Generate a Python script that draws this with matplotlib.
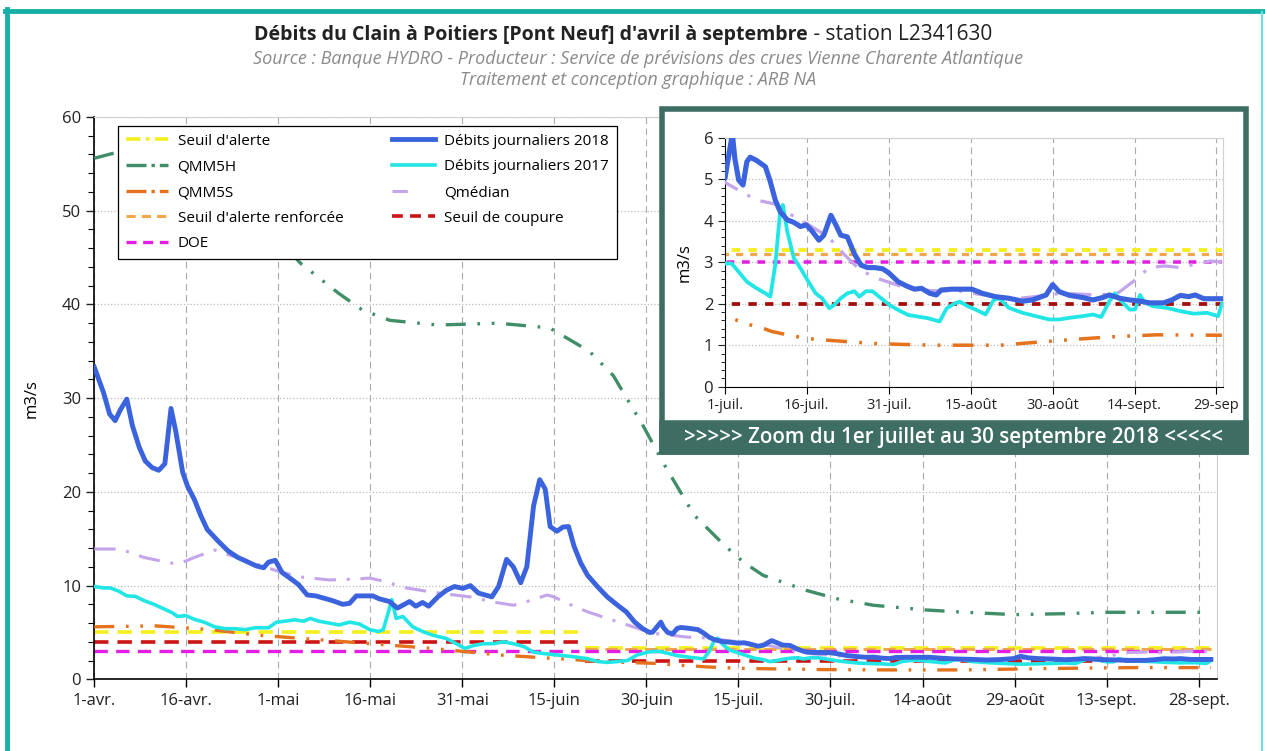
import numpy as np
import matplotlib
matplotlib.use("Agg")
import matplotlib.pyplot as plt
from matplotlib.patches import Rectangle
from matplotlib.lines import Line2D
from matplotlib.ticker import MultipleLocator

plt.rcParams['font.family'] = ['Open Sans', 'DejaVu Sans']

# days counted from 1 April 2018 (day 0) to 30 September (day 182)
x_ticks = [0, 15, 30, 45, 60, 75, 90, 105, 120, 135, 150, 165, 180]
x_labels = ['1-avr.', '16-avr.', '1-mai', '16-mai', '31-mai', '15-juin', '30-juin',
            '15-juil.', '30-juil.', '14-août', '29-août', '13-sept.', '28-sept.']
zoom_ticks = [91, 106, 121, 136, 151, 166, 181]
zoom_labels = ['1-juil.', '16-juil.', '31-juil.', '15-août', '30-août', '14-sept.', '29-sep']

# Débits journaliers 2018
days_2018 = [0, 1.5, 2.5, 3.4, 4.2, 5.3, 6.2, 7.3, 8.3, 9.4, 10.5, 11.5, 12.5, 13.3, 14.4,
             15.2, 16.3, 17.4, 18.4, 20.1, 21.8, 23.4, 25.1, 26.4, 27.6, 28.4, 29.5, 30.6,
             32.3, 33.3, 34.7, 36.1, 37.7, 38.8, 40.5, 41.6, 42.7, 44.3, 45.4, 46.4, 48.1,
             49.4, 51.4, 52.4, 53.5, 54.5, 56.0, 57.4, 58.7, 60.1, 61.3, 62.6, 64.8, 65.9,
             67.2, 68.3, 69.5, 70.5, 71.6, 72.6, 73.5, 74.3, 75.4, 76.4, 77.3, 78.2, 79.3,
             80.4, 82.0, 83.6, 85.3, 86.7, 88.1, 89.4, 90.5,
             91.0, 91.8, 92.35, 92.8, 93.5, 94.3, 95.0, 95.6, 96.8, 98.4, 99.3, 100.2,
             101.1, 102.4, 103.6, 104.8, 105.9, 107.0, 108.2, 109.1, 110.4, 111.3, 112.2,
             113.4, 114.7, 115.9, 117.1, 118.4, 119.9, 121.1, 122.7, 124.2, 125.7, 127.0,
             128.5, 129.7, 130.6, 132.5, 134.4, 136.2, 138.1, 140.5, 143.0, 145.5, 147.3,
             149.8, 151.0, 152.2, 154.1, 156.5, 158.4, 160.2, 161.4, 163.3, 165.1, 167.0,
             168.8, 171.3, 172.8, 174.4, 175.9, 177.1, 178.7, 180.5, 182.0]
q_2018 = [33.3, 30.6, 28.3, 27.6, 28.7, 29.9, 27.1, 24.8, 23.3, 22.6, 22.3, 23.0, 28.9, 26.4, 22.1,
          20.6, 19.2, 17.4, 16.0, 14.8, 13.7, 13.0, 12.5, 12.1, 11.9, 12.5, 12.7, 11.4,
          10.6, 10.1, 9.0, 8.9, 8.6, 8.4, 8.0, 8.1, 8.9, 8.9, 8.9, 8.6, 8.3,
          7.6, 8.3, 7.8, 8.2, 7.8, 8.8, 9.5, 9.9, 9.7, 10.0, 9.2, 8.8, 9.9,
          12.8, 12.0, 10.3, 12.0, 18.5, 21.3, 20.3, 16.3, 15.8, 16.25, 16.3, 14.2, 12.4,
          11.1, 9.9, 8.8, 7.9, 7.2, 6.1, 5.4, 5.0,
          5.02, 5.66, 6.1, 5.5, 4.98, 4.86, 5.42, 5.53, 5.45, 5.3, 4.94, 4.5,
          4.22, 4.02, 3.96, 3.86, 3.9, 3.74, 3.53, 3.65, 4.13, 3.9, 3.65,
          3.61, 3.2, 2.93, 2.87, 2.87, 2.84, 2.73, 2.53, 2.43, 2.35, 2.37,
          2.25, 2.21, 2.33, 2.35, 2.35, 2.35, 2.25, 2.17, 2.13, 2.06, 2.09,
          2.21, 2.46, 2.29, 2.2, 2.15, 2.09, 2.15, 2.21, 2.13, 2.09, 2.06,
          2.02, 2.02, 2.09, 2.2, 2.17, 2.21, 2.12, 2.12, 2.12]

# Débits journaliers 2017
days_2017 = [0, 1.5, 2.6, 4.0, 5.3, 6.7, 8.1, 9.7, 11.4, 12.7, 13.6, 14.9, 16.3, 17.9, 19.6,
             21.3, 22.9, 24.6, 26.2, 28.4, 29.7, 31.1, 32.7, 34.1, 35.2, 36.6, 38.3, 39.9,
             41.6, 43.2, 44.9, 46.3, 47.1, 47.9, 48.5, 49.2, 50.3, 51.9, 53.5, 55.2, 57.4,
             59.0, 60.4, 61.8, 63.4, 65.0, 66.7, 68.3, 70.0, 71.6, 73.2, 75.4, 78.2, 80.4,
             82.0, 83.6, 85.3, 86.9, 88.5, 90.2,
             91.0, 92.2, 93.5, 95.0, 96.8, 98.4, 99.3, 100.2, 101.1, 101.6, 102.4, 103.6,
             104.8, 106.1, 107.6, 108.8, 110.1, 111.0, 112.2, 113.4, 114.7, 115.6, 116.8,
             118.0, 119.6, 121.1, 122.7, 124.5, 126.3, 128.2, 130.3, 131.6, 133.1, 134.0,
             135.6, 136.9, 138.7, 140.2, 141.2, 143.0, 145.5, 147.9, 150.4, 152.2, 154.1,
             156.5, 158.4, 159.9, 161.4, 162.4, 163.6, 165.1, 166.1, 167.0, 167.9, 169.4,
             171.9, 174.4, 176.8, 179.3, 181.3, 182.0]
q_2017 = [9.9, 9.75, 9.75, 9.4, 8.9, 8.85, 8.4, 8.0, 7.5, 7.1, 6.7, 6.8, 6.4, 6.1, 5.6,
          5.4, 5.4, 5.3, 5.5, 5.5, 6.1, 6.2, 6.35, 6.2, 6.5, 6.2, 6.0, 5.8,
          6.1, 5.9, 5.3, 5.1, 5.3, 7.1, 8.5, 6.5, 6.7, 5.6, 5.1, 4.7, 4.35,
          3.8, 3.3, 3.6, 3.8, 3.8, 4.0, 3.8, 3.5, 2.9, 2.75, 2.6, 2.4, 2.2,
          1.9, 1.8, 1.9, 2.0, 2.6, 2.9,
          2.97, 2.97, 2.77, 2.53, 2.37, 2.25, 2.17, 2.93, 4.22, 4.38, 3.74, 3.1,
          2.86, 2.57, 2.25, 2.13, 1.89, 1.97, 2.13, 2.25, 2.3, 2.17, 2.3,
          2.3, 2.13, 1.97, 1.85, 1.73, 1.69, 1.65, 1.57, 1.89, 2.01, 2.05,
          1.93, 1.86, 1.74, 2.09, 2.13, 1.9, 1.78, 1.7, 1.62, 1.62, 1.66,
          1.7, 1.74, 1.68, 2.06, 2.25, 2.06, 1.86, 1.86, 2.21, 2.02, 1.94,
          1.9, 1.82, 1.76, 1.78, 1.7, 2.0]

# Qmédian
days_med = [0, 4.2, 8.1, 12.5, 14.1, 16.3, 19.6, 21.8, 24.3, 27.3, 30.6, 33.9, 38.3, 42.7,
            44.9, 47.6, 50.4, 54.1, 57.4, 61.8, 64.5, 68.3, 71.6, 73.8, 74.9, 77.1, 80.4,
            83.6, 86.9, 90.2, 91.0, 96.7, 100.2, 103.0, 107.2, 110.0, 112.8, 115.6, 118.4,
            121.2, 124.7, 129.6, 133.8, 137.3, 140.8, 144.9, 149.1, 152.6, 156.1, 159.6,
            163.1, 165.9, 168.7, 171.5, 174.3, 177.1, 179.9, 182.0]
q_med = [13.9, 13.9, 13.0, 12.4, 12.4, 13.0, 13.8, 13.3, 12.8, 12.1, 11.4, 10.9, 10.6, 10.7,
         10.8, 10.4, 9.8, 9.4, 9.1, 8.75, 8.3, 7.9, 8.5, 9.0, 8.8, 8.1, 7.2,
         6.5, 5.8, 5.1, 4.92, 4.5, 4.4, 4.15, 3.83, 3.6, 3.19, 2.83, 2.63,
         2.51, 2.35, 2.31, 2.31, 2.23, 2.17, 2.13, 2.19, 2.25, 2.23, 2.21,
         2.27, 2.55, 2.87, 2.91, 2.87, 2.95, 3.03, 3.0]

# QMM5H
days_qmm5h = [0, 4.1, 8, 14, 20, 27, 33.6, 39.8, 43.7, 48.2, 56, 65.8, 74.2, 80.7, 84.6, 89.5,
              93, 97.8, 102.7, 105.8, 109, 116, 121, 127, 135.5, 142, 150, 158, 165, 173, 182]
qmm5h = [55.6, 56.3, 57.0, 57.3, 54.5, 49, 44.4, 41.2, 39.4, 38.3, 37.8, 38.0, 37.5, 35.0, 32.4, 27,
         22.8, 17.5, 14.3, 12.5, 11.1, 9.5, 8.6, 7.9, 7.4, 7.15, 6.9, 7.0, 7.15, 7.15, 7.15]

# QMM5S
days_qmm5s = [0, 10, 19, 26, 37, 47, 55, 66, 75.5, 84, 91, 95, 97.5, 99.6, 102.4, 106.1, 109.8,
              114, 118.4, 123.3, 129.4, 135.6, 141.5, 146, 150, 155, 161.5, 170, 182]
qmm5s = [5.6, 5.7, 5.3, 4.75, 4.2, 3.7, 3.3, 2.6, 2.2, 1.85, 1.71, 1.51, 1.43, 1.33, 1.25, 1.16,
         1.12, 1.08, 1.04, 1.02, 1.0, 1.0, 1.0, 1.05, 1.09, 1.14, 1.2, 1.25, 1.24]

# seuils : deux périodes (1 avril - 19 juin, 20 juin - 30 septembre)
period_start = [0, 80]
period_end = [79, 182]
seuil_alerte = [5.0, 3.3]
seuil_renforce = [np.nan, 3.2]
doe = [3.0, 3.0]
seuil_coupure = [4.0, 2.0]

c_2018 = '#3a63dd'
c_2017 = '#22e6e6'
c_med = '#c4a4ea'
c_h = '#3f8e68'
c_s = '#e5721c'
c_alerte = '#f4ef1c'
c_renf = '#f2a64c'
c_doe = '#e31ee3'
c_coup = '#cc1414'
c_coup_zoom = '#a30f0f'
teal = '#3e6e63'

W, H = 1265, 751
fig = plt.figure(figsize=(W / 100, H / 100), dpi=100)
fig.patch.set_facecolor('white')


def fx(px):
    return px / W


def fy(py):
    return 1 - py / H


def draw_all(ax, lw_scale=1.0, coup_color=c_coup, dash=(4, 2.5)):
    for i in range(len(period_start)):
        xs = [period_start[i], period_end[i]]
        ax.plot(xs, [seuil_alerte[i]] * 2, color=c_alerte, lw=2.6 * lw_scale, ls=(0, dash), zorder=2)
        ax.plot(xs, [seuil_renforce[i]] * 2, color=c_renf, lw=2.2 * lw_scale, ls=(0, dash), zorder=2)
        ax.plot(xs, [doe[i]] * 2, color=c_doe, lw=2.4 * lw_scale, ls=(0, dash), zorder=2)
        ax.plot(xs, [seuil_coupure[i]] * 2, color=coup_color, lw=2.6 * lw_scale, ls=(0, dash), zorder=2)
    ax.plot(days_qmm5h, qmm5h, color=c_h, lw=2.4 * lw_scale, ls=(0, (6, 3.5, 0.8, 3.5, 0.8, 3.5)), zorder=3)
    ax.plot(days_qmm5s, qmm5s, color=c_s, lw=2.4 * lw_scale, ls=(0, (6, 3.5, 0.8, 3.5, 0.8, 3.5)), zorder=3)
    ax.plot(days_med, q_med, color=c_med, lw=2.2 * lw_scale, ls=(0, (7, 3.5, 1, 3.5)), zorder=3)
    ax.plot(days_2017, q_2017, color=c_2017, lw=2.6 * lw_scale, zorder=4, solid_joinstyle='round')
    ax.plot(days_2018, q_2018, color=c_2018, lw=3.5 * lw_scale, zorder=5, solid_joinstyle='round')


# ---- graphique principal
ax = fig.add_axes([fx(94.3), fy(679.3), fx(1217 - 94.3), (679.3 - 117) / H])
draw_all(ax)
ax.set_xlim(0, 183)
ax.set_ylim(0, 60)
ax.set_xticks(x_ticks)
ax.set_xticklabels(x_labels, fontsize=12, color='#222222')
ax.yaxis.set_major_locator(MultipleLocator(10))
ax.yaxis.set_minor_locator(MultipleLocator(2))
ax.tick_params(axis='y', labelsize=12, colors='#222222', length=6, width=1)
ax.tick_params(axis='y', which='minor', length=4, width=0.8)
ax.tick_params(axis='x', length=6, width=1, pad=4)
ax.grid(axis='y', color='#bbbbbb', ls=':', lw=0.9)
ax.grid(axis='x', color='#aaaaaa', ls=(0, (6, 4)), lw=0.8)
ax.set_axisbelow(True)
for s in ['top', 'right']:
    ax.spines[s].set_color('#d0d0d0')
ax.spines['left'].set_linewidth(1.2)
ax.spines['bottom'].set_linewidth(1.2)
ax.set_ylabel('m3/s', fontsize=12, labelpad=16)

handles = [
    Line2D([], [], color=c_alerte, lw=2.6, ls=(0, (4, 1.5, 1, 1.5))),
    Line2D([], [], color=c_h, lw=2.4, ls=(0, (6, 1.5, 1, 1.5))),
    Line2D([], [], color=c_s, lw=2.4, ls=(0, (6, 1.5, 1, 1.5))),
    Line2D([], [], color=c_renf, lw=2.2, ls=(0, (3, 2))),
    Line2D([], [], color=c_doe, lw=2.4, ls=(0, (3, 2))),
    Line2D([], [], color=c_2018, lw=3.5),
    Line2D([], [], color=c_2017, lw=2.6),
    Line2D([], [], color=c_med, lw=2.2, ls=(0, (5, 20))),
    Line2D([], [], color=c_coup, lw=2.6, ls=(0, (3, 2))),
]
labels = ["Seuil d'alerte", 'QMM5H', 'QMM5S', "Seuil d'alerte renforcée", 'DOE',
          'Débits journaliers 2018', 'Débits journaliers 2017', 'Qmédian', 'Seuil de coupure']
leg = ax.legend(handles, labels, ncol=2, loc='upper left',
                bbox_to_anchor=(fx(118), fy(126)), bbox_transform=fig.transFigure,
                borderaxespad=0, fontsize=11, frameon=True, fancybox=False, framealpha=1,
                edgecolor='black', handlelength=2.8, handletextpad=0.6,
                columnspacing=3.2, labelspacing=0.7, borderpad=0.5)
leg.get_frame().set_linewidth(0.9)
leg.set_zorder(10)

# ---- cadre du zoom
fig.add_artist(Rectangle((fx(662), fy(452)), fx(1246 - 662), (452 - 109) / H,
                         transform=fig.transFigure, facecolor='white', edgecolor=teal,
                         lw=4, zorder=2))
fig.add_artist(Rectangle((fx(662), fy(452)), fx(1246 - 662), (452 - 423) / H,
                         transform=fig.transFigure, facecolor=teal, edgecolor=teal,
                         lw=4, zorder=2.5))
fig.text(fx(953), fy(438), '>>>>> Zoom du 1er juillet au 30 septembre 2018 <<<<<',
         ha='center', va='center', color='white', fontsize=14.8, fontweight='semibold', zorder=4)

axz = fig.add_axes([fx(725), fy(386.7), fx(1223 - 725), (386.7 - 137.7) / H], zorder=3)
draw_all(axz, lw_scale=1.05, coup_color=c_coup_zoom, dash=(2.2, 2.2))
axz.set_xlim(91, 182.2)
axz.set_ylim(0, 6)
axz.set_xticks(zoom_ticks)
axz.set_xticklabels(zoom_labels, fontsize=10.5, color='#222222')
axz.yaxis.set_major_locator(MultipleLocator(1))
axz.yaxis.set_minor_locator(MultipleLocator(0.2))
axz.tick_params(axis='y', labelsize=12, colors='#222222', length=5)
axz.tick_params(axis='y', which='minor', length=3)
axz.tick_params(axis='x', length=5, pad=3)
axz.grid(axis='y', color='#bbbbbb', ls=':', lw=0.9)
axz.grid(axis='x', color='#aaaaaa', ls=(0, (6, 4)), lw=0.8)
axz.set_axisbelow(True)
for s in ['top', 'right']:
    axz.spines[s].set_color('#d0d0d0')
axz.set_ylabel('m3/s', fontsize=12, labelpad=8)

# ---- titres
fig.text(fx(808), fy(35), "Débits du Clain à Poitiers [Pont Neuf] d'avril à septembre",
         ha='right', va='center', fontsize=14, fontweight='bold', color='#222222')
fig.text(fx(808), fy(35), ' - station L2341630', ha='left', va='center',
         fontsize=15, color='#222222')
fig.text(fx(638), fy(59), 'Source : Banque HYDRO - Producteur : Service de prévisions des crues Vienne Charente Atlantique',
         ha='center', va='center', fontsize=13, style='italic', color='#8a8a8a')
fig.text(fx(638), fy(80), 'Traitement et conception graphique : ARB NA',
         ha='center', va='center', fontsize=13, style='italic', color='#8a8a8a')

# ---- bordure
fig.add_artist(Line2D([fx(5), fx(1265)], [fy(10.5), fy(10.5)], transform=fig.transFigure,
                      color='#17b0a6', lw=3.5))
fig.add_artist(Line2D([fx(7.5), fx(7.5)], [fy(9), 0], transform=fig.transFigure,
                      color='#17b0a6', lw=3.5))
fig.add_artist(Line2D([fx(1262), fx(1262)], [fy(12), 0], transform=fig.transFigure,
                      color='#6fe0e0', lw=1.5))

fig.savefig('out.png', dpi=100)
